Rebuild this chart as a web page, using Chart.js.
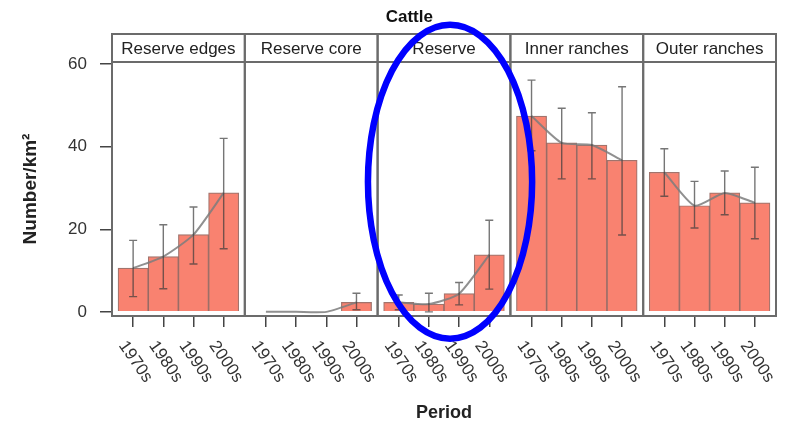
<!DOCTYPE html>
<html lang="en">
<head>
    <meta charset="UTF-8">
    <title>Cattle</title>
    <script src="https://cdn.jsdelivr.net/npm/chart.js"></script>
    <style>
        body { margin: 0; background: #fff; }
    </style>
</head>
<body>
    <canvas id="cattleChart" width="788" height="426"></canvas>

    <script>
        const chartTitle = 'Cattle';
        const regions = ['Reserve edges', 'Reserve core', 'Reserve', 'Inner ranches', 'Outer ranches'];
        const periods = ['1970s', '1980s', '1990s', '2000s'];

        // mean density and error bar ends per region, one value per period
        const edgesMean = [10.6, 13.4, 18.7, 28.8];
        const edgesLow = [3.7, 5.6, 11.6, 15.3];
        const edgesHigh = [17.3, 21.1, 25.4, 42.0];

        const coreMean = [0, 0, 0, 2.3];
        const coreLow = [0, 0, 0, 0.5];
        const coreHigh = [0, 0, 0, 4.5];

        const reserveMean = [2.3, 1.9, 4.4, 13.8];
        const reserveLow = [0.5, 0, 1.7, 5.5];
        const reserveHigh = [4.1, 4.5, 7.1, 22.2];

        const innerMean = [47.4, 40.9, 40.4, 36.7];
        const innerLow = [39.0, 32.2, 32.2, 18.6];
        const innerHigh = [56.1, 49.3, 48.2, 54.5];

        const outerMean = [33.8, 25.7, 28.8, 26.4];
        const outerLow = [28.0, 20.3, 23.5, 17.7];
        const outerHigh = [39.5, 31.6, 34.1, 35.0];

        const yTicks = [0, 20, 40, 60];

        const means = [edgesMean, coreMean, reserveMean, innerMean, outerMean];
        const lows = [edgesLow, coreLow, reserveLow, innerLow, outerLow];
        const highs = [edgesHigh, coreHigh, reserveHigh, innerHigh, outerHigh];

        // panel layout on the shared x axis
        const panelWidth = 4.4;
        const panelPad = 0.7;
        const xPos = (p, i) => p * panelWidth + panelPad + i;

        const barPoints = [];
        const linePoints = [];
        const tickValues = [];
        const errLow = [];
        const errHigh = [];
        regions.forEach((r, p) => {
            periods.forEach((per, i) => {
                barPoints.push({ x: xPos(p, i), y: means[p][i] });
                linePoints.push({ x: xPos(p, i), y: means[p][i] });
                tickValues.push(xPos(p, i));
                errLow.push(lows[p][i]);
                errHigh.push(highs[p][i]);
            });
            if (p < regions.length - 1) linePoints.push({ x: (p + 1) * panelWidth, y: null });
        });

        const font = '"Liberation Sans", Arial, sans-serif';

        const facetPlugin = {
            id: 'facets',
            afterDatasetsDraw(chart) {
                const ctx = chart.ctx;
                const x = chart.scales.x, y = chart.scales.y;
                // error bars
                ctx.save();
                ctx.strokeStyle = 'rgba(60,60,60,0.7)';
                ctx.lineWidth = 1.4;
                barPoints.forEach((pt, k) => {
                    if (errHigh[k] === errLow[k]) return;
                    const px = x.getPixelForValue(pt.x);
                    const y1 = y.getPixelForValue(errLow[k]);
                    const y2 = y.getPixelForValue(errHigh[k]);
                    ctx.beginPath();
                    ctx.moveTo(px, y1); ctx.lineTo(px, y2);
                    ctx.moveTo(px - 4, y1); ctx.lineTo(px + 4, y1);
                    ctx.moveTo(px - 4, y2); ctx.lineTo(px + 4, y2);
                    ctx.stroke();
                });
                ctx.restore();
            },
            afterDraw(chart) {
                const ctx = chart.ctx;
                const x = chart.scales.x, y = chart.scales.y;
                const area = chart.chartArea;
                const stripH = 28;
                ctx.save();
                ctx.strokeStyle = '#6b6b6b';
                ctx.lineWidth = 2;
                regions.forEach((name, p) => {
                    const l = x.getPixelForValue(p * panelWidth);
                    const r = x.getPixelForValue((p + 1) * panelWidth);
                    ctx.strokeRect(l, area.top, r - l, area.bottom - area.top);
                    ctx.strokeRect(l, area.top - stripH, r - l, stripH);
                    ctx.fillStyle = '#222';
                    ctx.font = '17px ' + font;
                    ctx.textAlign = 'center';
                    ctx.textBaseline = 'middle';
                    ctx.fillText(name, (l + r) / 2, area.top - stripH / 2 + 1);
                });

                // rotated period labels
                ctx.fillStyle = '#333';
                ctx.font = '17px ' + font;
                ctx.textAlign = 'left';
                ctx.textBaseline = 'top';
                tickValues.forEach((v, k) => {
                    const px = x.getPixelForValue(v);
                    ctx.save();
                    ctx.translate(px - 4, area.bottom + 22);
                    ctx.rotate(55 * Math.PI / 180);
                    ctx.fillText(periods[k % periods.length], 0, 0);
                    ctx.restore();
                });

                // title
                ctx.fillStyle = '#111';
                ctx.font = 'bold 17px ' + font;
                ctx.textAlign = 'center';
                ctx.textBaseline = 'middle';
                ctx.fillText(chartTitle, x.getPixelForValue(9.85), 17);

                // highlight around the Reserve panel
                const cx = x.getPixelForValue(11.2);
                const cy = y.getPixelForValue(31.5);
                const rx = x.getPixelForValue(11.2 + 2.72) - cx;
                const ry = cy - y.getPixelForValue(31.5 + 38);
                ctx.strokeStyle = '#0000ff';
                ctx.lineWidth = 6.5;
                ctx.beginPath();
                ctx.ellipse(cx, cy, rx, ry, 0, 0, Math.PI * 2);
                ctx.stroke();
                ctx.restore();
            }
        };

        const ctx = document.getElementById('cattleChart').getContext('2d');
        new Chart(ctx, {
            type: 'bar',
            data: {
                datasets: [
                    {
                        type: 'bar',
                        data: barPoints,
                        backgroundColor: 'rgb(249,130,112)',
                        borderColor: 'rgba(130,70,60,0.75)',
                        borderWidth: 1.2,
                        barPercentage: 1,
                        categoryPercentage: 1,
                        order: 2
                    },
                    {
                        type: 'line',
                        data: linePoints,
                        borderColor: 'rgba(125,125,125,0.85)',
                        borderWidth: 2,
                        pointRadius: 0,
                        tension: 0.2,
                        spanGaps: false,
                        order: 1
                    }
                ]
            },
            options: {
                responsive: false,
                animation: false,
                devicePixelRatio: 1,
                layout: { padding: { top: 62, right: 12, left: 0, bottom: 0 } },
                plugins: {
                    legend: { display: false },
                    tooltip: { enabled: false }
                },
                scales: {
                    x: {
                        type: 'linear',
                        min: 0,
                        max: panelWidth * regions.length,
                        offset: false,
                        afterBuildTicks: s => { s.ticks = tickValues.map(v => ({ value: v })); },
                        afterFit: s => { s.height = 110; },
                        ticks: { display: false },
                        grid: { offset: false, drawOnChartArea: false, drawTicks: true, tickLength: 11, color: '#444', lineWidth: 1.5 },
                        border: { display: false },
                        title: {
                            display: true,
                            text: 'Period',
                            color: '#222',
                            font: { family: font, size: 18, weight: 'bold' },
                            padding: { top: 0, bottom: 2 }
                        }
                    },
                    y: {
                        min: -1,
                        max: 60.5,
                        afterBuildTicks: s => { s.ticks = yTicks.map(v => ({ value: v })); },
                        afterFit: s => { s.width = 112; },
                        ticks: { color: '#333', padding: 13, font: { family: font, size: 17 } },
                        grid: { drawOnChartArea: false, tickLength: 12, color: '#444', lineWidth: 1.5 },
                        border: { display: false },
                        title: {
                            display: true,
                            text: 'Number/km²',
                            color: '#222',
                            font: { family: font, size: 19, weight: 'bold' },
                            padding: { top: 19, bottom: 0 }
                        }
                    }
                }
            },
            plugins: [facetPlugin]
        });
    </script>
</body>
</html>
